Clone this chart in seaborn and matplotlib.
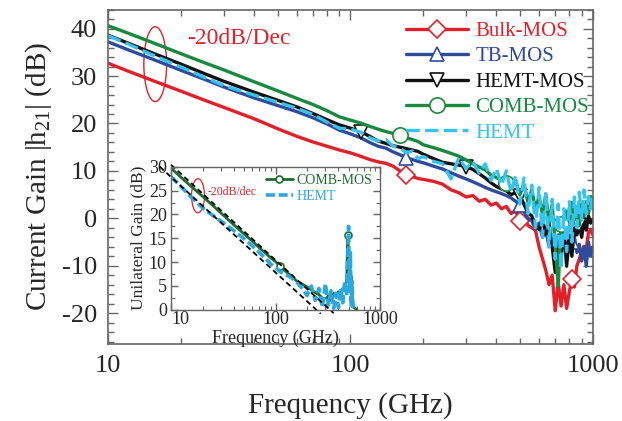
import matplotlib
matplotlib.use("Agg")
import matplotlib.pyplot as plt
import seaborn as sns
from matplotlib.patches import Ellipse
from matplotlib.ticker import MultipleLocator, NullFormatter

# frequency grid (GHz) of the main plot
freq = [10, 12, 15, 20, 25, 30, 40, 50, 60, 70, 80, 90, 100,
        110, 120, 130, 140, 150, 160, 170, 180, 190, 200,
        220, 240, 260, 280, 300, 320, 340, 360, 380, 400,
        420, 440, 460, 480, 500, 520, 540, 560, 580, 600,
        620, 640, 660, 680, 700, 720, 740, 760, 780, 800,
        820, 840, 860, 880, 900, 920, 940, 960, 980, 1000]

# current gain |h21| (dB)
bulk_mos = [32.7, 31.1, 29.2, 26.8, 24.9, 23.4, 21.0, 18.9, 17.3, 16.1, 15.2, 14.4, 13.8,
            13.1, 12.4, 11.9, 11.6, 11.0, 10.0, 9.2, 8.8, 8.4, 8.2,
            7.8, 7.2, 6.0, 5.4, 4.5, 4.8, 3.6, 4.0, 2.8, 3.2,
            2.0, 2.5, 1.0, 1.6, -0.5, 0.5, -1.5, -2.0, -2.5, -6.0,
            -8.5, -11.0, -14.0, -12.0, -19.5, -13.5, -18.5, -14.0, -19.0, -15.5,
            -12.8, -14.5, -10.0, -8.6, -7.0, -5.9, -6.5, -3.0, -2.3, -3.5]
tb_mos = [37.2, 35.6, 33.7, 31.2, 29.3, 27.7, 25.4, 23.8, 22.5, 21.2, 19.9, 18.6, 17.8,
          17.0, 16.0, 15.2, 14.8, 14.0, 13.4, 12.8, 12.4, 12.0, 11.7,
          11.0, 10.4, 9.6, 8.9, 8.3, 7.7, 7.1, 6.5, 6.0, 5.6,
          5.2, 4.8, 4.3, 3.6, 2.9, 1.5, 0.0, -0.5, -2.3, -1.0,
          -4.0, -2.5, -6.0, -4.5, -7.2, -3.5, -8.0, -4.5, -6.5, -3.5,
          -5.1, -4.0, -7.2, -5.5, -9.0, -6.0, -10.1, -5.0, -8.0, -6.0]
hemt_mos = [38.6, 37.0, 35.0, 32.5, 30.5, 28.9, 26.6, 24.9, 23.5, 22.1, 20.8, 19.7, 19.0,
            18.3, 17.3, 16.3, 15.8, 15.3, 15.0, 14.7, 14.4, 14.1, 13.5,
            12.6, 11.8, 11.5, 11.2, 10.9, 10.3, 9.4, 8.5, 7.5, 6.7,
            6.2, 5.8, 5.0, 5.4, 4.8, 3.0, 1.2, 0.5, -1.5, -2.3,
            0.0, -3.5, -1.0, -6.0, -11.4, -4.0, -7.2, -2.5, -10.1, -4.0,
            -8.0, -2.0, -3.5, -1.5, -4.0, -0.5, -2.5, 0.5, -1.0, -0.3]
comb_mos = [40.6, 39.1, 37.2, 34.7, 32.8, 31.3, 28.8, 26.9, 25.3, 24.0, 22.7, 21.4, 20.7,
            20.1, 19.4, 18.8, 18.3, 17.9, 17.5, 17.0, 16.6, 16.2, 15.5,
            14.9, 14.3, 13.7, 13.1, 12.3, 11.5, 10.8, 10.2, 9.1, 8.6,
            8.0, 7.5, 6.8, 8.0, 5.0, 7.0, 3.5, 6.0, 2.0, 4.5,
            1.0, 5.0, -1.0, 3.0, -6.0, -14.3, -1.3, -4.0, 1.5, -2.5,
            3.3, -0.3, 2.0, -1.5, 3.0, 0.5, 3.5, 1.0, 4.6, 3.5]
hemt = [38.5, 36.8, 34.6, 31.9, 29.7, 28.0, 26.0, 24.5, 23.2, 21.9, 20.3, 19.0, 18.8,
        18.2, 17.0, 16.3, 16.6, 15.2, 14.8, 13.8, 14.2, 12.6, 13.0,
        12.0, 11.5, 8.3, 12.8, 10.5, 12.0, 9.5, 11.5, 8.0, 10.5,
        7.0, 10.0, 5.5, 9.0, 3.0, 8.5, 1.0, 7.0, -2.0, 6.5,
        -4.0, 5.5, -6.0, 4.0, -8.6, 3.0, -10.7, 2.0, -7.0, 3.5,
        -5.0, 4.5, -2.0, 5.5, -0.3, 6.0, 1.0, 4.6, 2.0, 5.0]

# marker positions (indices into freq)
bulk_marks = [19, 37, 53]
tb_marks = [19, 37, 53]
hemt_mos_marks = [13, 27, 37, 56]
comb_marks = [18, 34, 49]

# inset: unilateral gain (dB)
inset_freq = [10, 12, 15, 20, 25, 30, 40, 50, 60, 70, 80, 90, 100, 110, 120,
              140, 160, 180, 200, 220, 240, 260, 280, 300, 320, 340, 360, 380, 400,
              420, 440, 460, 480, 490, 500, 510, 520, 530, 540, 550, 560, 580, 600]
inset_comb = [29.7, 28.1, 26.2, 23.8, 21.9, 20.3, 17.8, 15.9, 14.4, 13.0, 11.9, 10.9, 10.1, 9.2, 8.4,
              7.2, 6.0, 5.4, 4.8, 4.2, 3.6, 3.2, 2.5, 1.9, 3.0, 2.0, 3.5, 2.6, 3.8,
              3.0, 4.5, 4.0, 6.5, 15.7, 12.0, 7.8, 5.0, 7.0, 3.0, 1.5, 0.5, 0.3, 0.0]
inset_hemt = [27.9, 26.2, 24.0, 21.4, 19.8, 18.6, 16.6, 14.9, 13.4, 12.0, 10.8, 9.6, 8.9, 8.0, 7.6,
              6.8, 5.8, 4.5, 3.0, 5.0, 2.0, 4.5, 0.5, 5.5, 1.0, 4.0, 0.3, 3.5, 0.5,
              4.5, 1.5, 6.0, 3.0, 10.0, 17.5, 4.0, 12.0, 1.0, 6.0, 0.2, 1.0]
inset_comb_marks = [13, 23, 33]
ref_a_freq = [10, 360]
ref_a_db = [30.4, -0.7]
ref_b_freq = [7.8, 270]
ref_b_db = [30.0, -0.8]

RED = "#e3202a"
BLUE = "#2f4b9e"
BLACK = "#111111"
GREEN = "#178a3e"
CYAN = "#35c4f0"
DKGREEN = "#1d6a30"
CYAN2 = "#2aa8e2"

sns.set_style("ticks")
plt.rcParams["font.family"] = ["Liberation Serif", "DejaVu Serif"]
plt.rcParams["mathtext.fontset"] = "custom"
plt.rcParams["mathtext.rm"] = "Liberation Serif"
plt.rcParams["mathtext.it"] = "Liberation Serif:italic"
plt.rcParams["axes.unicode_minus"] = False

fig = plt.figure(figsize=(6.22, 4.21), dpi=100)
ax = fig.add_axes([0.174, 0.183, 0.779, 0.794])

series = [("Bulk-MOS", bulk_mos, RED, "D", 9.5, bulk_marks),
          ("TB-MOS", tb_mos, BLUE, "^", 10, tb_marks),
          ("HEMT-MOS", hemt_mos, BLACK, "v", 10, hemt_mos_marks),
          ("COMB-MOS", comb_mos, GREEN, "o", 11, comb_marks)]
for label, vals, color, mk, size, marks in series:
    sns.lineplot(x=freq, y=vals, ax=ax, color=color, linewidth=2.4, marker=mk,
                 markevery=marks, markersize=size, markerfacecolor="white",
                 markeredgecolor=color, markeredgewidth=1.2, label=label)
sns.lineplot(x=freq, y=hemt, ax=ax, color=CYAN, linewidth=2.4,
             linestyle=(0, (4, 1.6)), label="HEMT")

ax.set_xscale("log")
ax.set_xlim(10, 1000)
ax.set_ylim(-26.5, 44)
ax.set_xticks([10, 100, 1000], ["10", "100", "1000"])
ax.xaxis.set_minor_formatter(NullFormatter())
ax.set_yticks([-20, -10, 0, 10, 20, 30, 40])
ax.yaxis.set_minor_locator(MultipleLocator(2))
ax.tick_params(which="both", direction="in", top=True, right=True, color="#666666",
               labelsize=19, pad=8)
ax.tick_params(which="major", length=7, width=1)
ax.tick_params(which="minor", length=4, width=1)
for sp in ax.spines.values():
    sp.set_color("#666666")
    sp.set_linewidth(1.2)
ax.set_xlabel("Frequency (GHz)", fontsize=21, labelpad=11)
ax.set_ylabel("Current Gain |h$_{21}$| (dB)", fontsize=21, labelpad=6)

ax.legend(loc="upper left", bbox_to_anchor=(0.614, 0.965), frameon=False, fontsize=15,
          handlelength=3.0, handletextpad=0.35, labelspacing=0.28, borderpad=0,
          borderaxespad=0, labelcolor="linecolor")

ax.add_patch(Ellipse((0.097, 0.837), 0.047, 0.224, transform=ax.transAxes,
                     fill=False, edgecolor=RED, linewidth=1))
ax.text(0.163, 0.915, "-20dB/Dec", transform=ax.transAxes, color=RED,
        fontsize=17, va="center", ha="left")

# inset
ax_in = fig.add_axes([0.275, 0.264, 0.336, 0.340])
ax_in.set_facecolor("white")
sns.lineplot(x=inset_freq, y=inset_comb, ax=ax_in, color=DKGREEN, linewidth=2,
             marker="o", markevery=inset_comb_marks, markersize=5,
             markerfacecolor="white", markeredgecolor=DKGREEN, markeredgewidth=1.2,
             label="COMB-MOS")
sns.lineplot(x=inset_freq[:len(inset_hemt)], y=inset_hemt, ax=ax_in, color=CYAN2,
             linewidth=2.6, linestyle=(0, (2.5, 1)), label="HEMT")
sns.lineplot(x=ref_a_freq, y=ref_a_db, ax=ax_in, color="black", linewidth=1.3,
             linestyle=(0, (3, 2)), clip_on=False)
sns.lineplot(x=ref_b_freq, y=ref_b_db, ax=ax_in, color="black", linewidth=1.3,
             linestyle=(0, (3, 2)), clip_on=False)
ax_in.set_xscale("log")
ax_in.set_xlim(10, 1000)
ax_in.set_ylim(0, 30)
ax_in.set_xticks([10, 100, 1000], ["10", "100", "1000"])
ax_in.xaxis.set_minor_formatter(NullFormatter())
ax_in.set_yticks([0, 5, 10, 15, 20, 25, 30])
ax_in.yaxis.set_minor_locator(MultipleLocator(2.5))
ax_in.tick_params(which="both", direction="in", top=True, right=True, color="#666666",
                  labelsize=13, pad=1)
ax_in.tick_params(axis="y", pad=3)
ax_in.tick_params(which="major", length=5, width=1)
ax_in.tick_params(which="minor", length=3, width=0.8)
ax_in.xaxis.get_major_ticks()[0].label1.set_horizontalalignment("left")
for sp in ax_in.spines.values():
    sp.set_color("#666666")
    sp.set_linewidth(1)
ax_in.set_xlabel("Frequency (GHz)", fontsize=13, labelpad=1)
ax_in.set_ylabel("Unilateral Gain (dB)", fontsize=12.5, labelpad=2)
ax_in.legend(loc="upper left", bbox_to_anchor=(0.455, 0.95), frameon=False, fontsize=10,
             handlelength=1.9, handletextpad=0.3, labelspacing=0.2, borderpad=0,
             borderaxespad=0, labelcolor="linecolor")
ax_in.add_patch(Ellipse((0.129, 0.797), 0.062, 0.238, transform=ax_in.transAxes,
                        fill=False, edgecolor=RED, linewidth=0.9))
ax_in.text(0.177, 0.825, "-20dB/dec", transform=ax_in.transAxes, color=RED,
           fontsize=8.5, va="center", ha="left")

fig.savefig("out.png", dpi=100)
